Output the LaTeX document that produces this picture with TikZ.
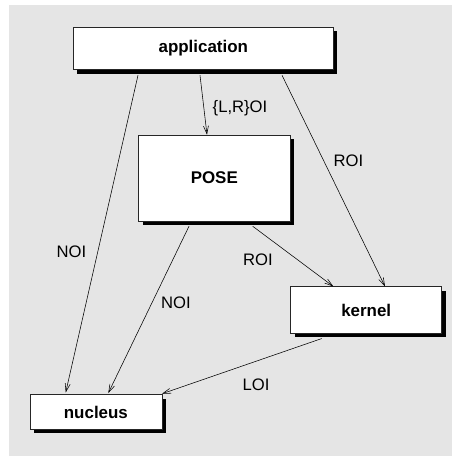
\documentclass[tikz,border=0pt]{standalone}
\usepackage{fontspec}
\setmainfont{Liberation Sans}
\usetikzlibrary{arrows.meta,shadows,calc}
\definecolor{bggray}{HTML}{E5E5E5}
\begin{document}
\begin{tikzpicture}[x=1bp,y=-1bp,
  box/.style={rectangle, draw=black!85, line width=0.5bp, fill=white, inner sep=0pt,
    font=\fontsize{17}{20}\selectfont\bfseries,
    drop shadow={shadow xshift=4bp, shadow yshift=-4bp, fill=black, opacity=1}},
  lbl/.style={font=\fontsize{16.7}{19}\selectfont, anchor=base, inner sep=0pt},
  conn/.style={line width=0.55bp, -{Straight Barb[length=8bp,width=5bp,line width=0.55bp]}}]
\useasboundingbox (0,0) rectangle (452,456);
\fill[bggray] (9,5) rectangle (452,456);

\node[box, minimum width=260bp, minimum height=42.4bp] (app) at (203.3,48.5) {application};
\node[box, minimum width=151.5bp, minimum height=86bp] (pose) at (214.3,178) {POSE};
\node[box, minimum width=151bp, minimum height=46.6bp] (kernel) at (366.2,310) {kernel};
\node[box, minimum width=131.7bp, minimum height=34.6bp] (nucleus) at (95.9,412) {nucleus};

\draw[conn] ([xshift=-65.3bp,yshift=-5.3bp]app.south) -- ([xshift=-30.2bp,yshift=2bp]nucleus.north);
\draw[conn] ([xshift=-3.3bp,yshift=-5.3bp]app.south) -- ([xshift=-7.3bp]pose.north);
\draw[conn] ([xshift=78.7bp,yshift=-5.3bp]app.south) -- ([xshift=18.8bp]kernel.north);
\draw[conn] ([xshift=-25.3bp,yshift=-5bp]pose.south) -- ([xshift=12.4bp,yshift=1.4bp]nucleus.north);
\draw[conn] ([xshift=38.4bp,yshift=-5bp]pose.south) -- ([xshift=-32.9bp]kernel.north);
\draw[conn] ([xshift=-44.5bp,yshift=-5bp]kernel.south) -- ([yshift=0.7bp]nucleus.north east);

\node[lbl] (l1) at (240,112.5) {\{L,R\}OI};
\node[lbl] (l2) at (348.5,167) {ROI};
\node[lbl] (l3) at (71.5,257) {NOI};
\node[lbl] (l4) at (258,265) {ROI};
\node[lbl] (l5) at (176,308) {NOI};
\node[lbl] (l6) at (256,390.7) {LOI};
\end{tikzpicture}
\end{document}
